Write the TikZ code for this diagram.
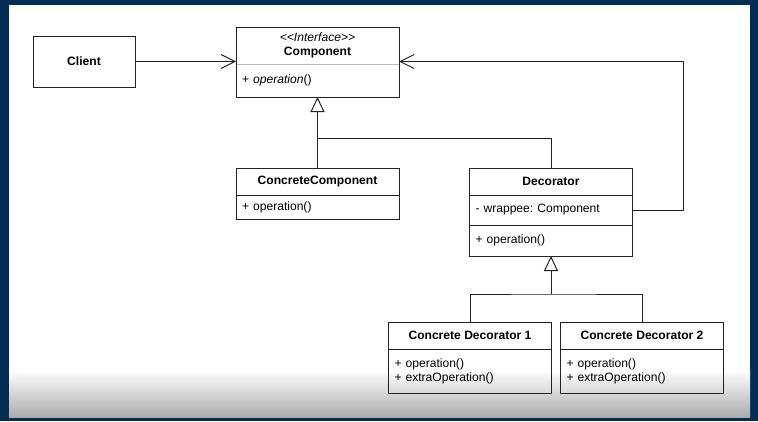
\documentclass[tikz,border=0pt]{standalone}
\usepackage{fontspec}
\setmainfont{Liberation Sans}
\usepackage{tikz}
\usetikzlibrary{arrows.meta, positioning, calc}
\usepackage{xcolor}
\definecolor{framecolor}{RGB}{4,45,85}
\definecolor{umlline}{RGB}{35,35,35}
\definecolor{sepcolor}{RGB}{185,185,185}
\definecolor{fadecolor}{RGB}{172,172,172}
\frenchspacing

\begin{document}
\begin{tikzpicture}[
  % Node styles
  classname/.style={
    rectangle,
    draw=umlline,
    line width=0.7pt,
    minimum width=4.075cm,
    inner sep=0pt,
    outer sep=0pt,
    align=center,
    font=\fontsize{8.6}{10}\selectfont\bfseries
  },
  members/.style={
    rectangle,
    draw=umlline,
    line width=0.7pt,
    text width=3.775cm,
    inner xsep=0.15cm,
    inner ysep=0pt,
    outer sep=0pt,
    align=left,
    font=\fontsize{8.6}{10}\selectfont
  },
  assoc/.style={
    -{Straight Barb[length=3.5mm, width=3.5mm]},
    line width=0.7pt,
    draw=umlline
  },
  inherit/.style={
    -{Triangle[open, length=3.75mm, width=3.5mm]},
    line width=0.7pt,
    draw=umlline
  },
  link/.style={
    line width=0.7pt,
    draw=umlline
  }
]

\useasboundingbox (0,0) rectangle (18.95,10.525);

% ===== BACKGROUND =====
\fill[framecolor] (0,0) rectangle (18.95,10.525);
\fill[white] (0.225,0.1) rectangle (18.75,10.4);
\shade[top color=white, bottom color=fadecolor] (0.225,0.1) rectangle (18.75,1.275);

% ===== CLIENT =====
\node[classname, minimum width=2.55cm, minimum height=1.275cm] (client) at (2.1,8.9875) {Client};

% ===== COMPONENT (interface) =====
\node[classname, draw=none, minimum height=0.925cm] (comptitle) at (7.9375,9.3875)
  {{\mdseries\itshape <\kern0pt<\kern0pt Interface>\kern0pt>}\\Component};
\node[members, draw=none, minimum height=0.825cm, below=0pt of comptitle] (compops)
  {+ \textit{operation}()};
\draw[sepcolor, line width=0.7pt] (comptitle.south west) -- (comptitle.south east);
\draw[umlline, line width=0.7pt] (comptitle.north west) rectangle (compops.south east);

% ===== CONCRETE COMPONENT =====
\node[classname, minimum height=0.675cm] (cctitle) at (7.9375,5.9875) {ConcreteComponent};
\node[members, minimum height=0.6cm, below=0pt of cctitle] (ccops) {+ operation()};

% ===== DECORATOR =====
\node[classname, minimum height=0.675cm] (dectitle) at (13.775,5.9875) {Decorator};
\node[members, minimum height=0.75cm, below=0pt of dectitle] (decattr) {- wrappee: Component};
\node[members, minimum height=0.775cm, below=0pt of decattr] (decops) {+ operation()};

% ===== CONCRETE DECORATORS =====
\node[classname, minimum height=0.675cm] (cd1title) at (11.75,2.1375) {Concrete Decorator 1};
\node[members, minimum height=1.1cm, below=0pt of cd1title] (cd1ops) {+ operation()\\+ extraOperation()};

\node[classname, minimum height=0.675cm] (cd2title) at (16.05,2.1375) {Concrete Decorator 2};
\node[members, minimum height=1.1cm, below=0pt of cd2title] (cd2ops) {+ operation()\\+ extraOperation()};

% ===== JUNCTIONS =====
\coordinate (compjoin) at (7.9375,7.075);
\coordinate (decjoin) at (13.775,3.175);

% ===== ASSOCIATIONS =====
\draw[assoc] (client.east) -- (client.east -| comptitle.west);
\draw[assoc] (decattr.east) -- ++(1.275,0) |- (client.east -| comptitle.east);

% ===== GENERALIZATIONS =====
\draw[inherit] (cctitle.north) -- (compops.south);
\draw[link] (dectitle.north) |- (compjoin);

\draw[inherit] (decjoin) -- (decops.south);
\draw[link] (cd1title.north) |- (decjoin) -| (cd2title.north);

\end{tikzpicture}
\end{document}
